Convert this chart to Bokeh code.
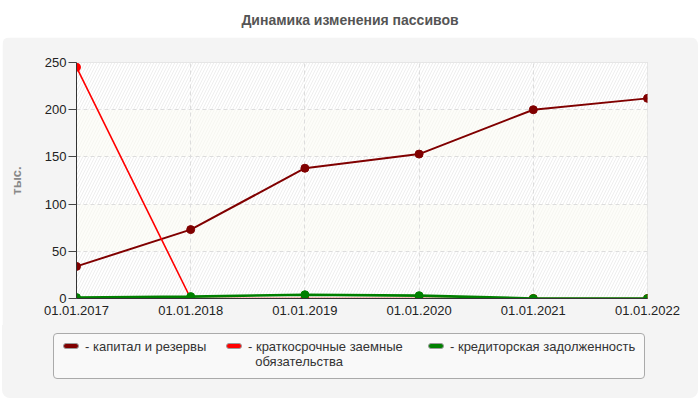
from bokeh.plotting import figure
from bokeh.models import FixedTicker, Div, Range1d
from bokeh.layouts import column
from bokeh.embed import file_html
from bokeh.resources import INLINE

years = [2017, 2018, 2019, 2020, 2021, 2022]
date_labels = ["01.01.2017", "01.01.2018", "01.01.2019", "01.01.2020", "01.01.2021", "01.01.2022"]
capital = [34, 73, 138, 153, 200, 212]
short_loans = [245, 0, 0, 0, 0, 0]
payables = [1, 2, 4, 3, 0, 0]
series_names = ["- капитал и резервы",
                "- краткосрочные заемные\n\u00a0\u00a0обязательства",
                "- кредиторская задолженность"]
series_colors = ["#800000", "#ff0000", "#008000"]
y_ticks = [0, 50, 100, 150, 200, 250]

FONT = "Liberation Sans"
PANEL = "#f4f4f4"
W = 696

title = Div(text="Динамика изменения пассивов", width=700, height=37, margin=0,
            styles={"text-align": "center", "font-family": FONT, "font-size": "14px",
                    "font-weight": "bold", "color": "#555555", "line-height": "40px",
                    "width": "700px"})

p = figure(width=W, height=288, x_range=Range1d(years[0], years[-1]),
           y_range=Range1d(y_ticks[0], y_ticks[-1]),
           output_backend="svg", toolbar_location=None, margin=(0, 0, 0, 2),
           min_border_left=74, min_border_right=51, min_border_top=25, min_border_bottom=27,
           border_fill_color=PANEL, background_fill_color="white",
           outline_line_color="#dcdcdc",
           styles={"border-top-left-radius": "8px", "border-top-right-radius": "8px",
                   "overflow": "hidden"})

# striped background bands
band_bottom = y_ticks[:-1]
band_top = y_ticks[1:]
band_fill = ["white" if i % 2 == 0 else "#fdfdf9" for i in range(len(band_bottom))]
band_hatch = ["#eeeeee" if i % 2 == 0 else "#f6f6f1" for i in range(len(band_bottom))]
p.quad(left=years[0], right=years[-1], bottom=band_bottom, top=band_top,
       fill_color=band_fill, hatch_pattern="/", hatch_color=band_hatch,
       hatch_scale=6, hatch_weight=1, line_color=None, level="image")

for vals, color, lw in zip([capital, short_loans, payables], series_colors, [2, 1.6, 2.6]):
    p.line(years, vals, line_color=color, line_width=lw)
    p.scatter(years, vals, size=8, fill_color=color, line_color=color)

# grids
p.xgrid.ticker = FixedTicker(ticks=years)
p.ygrid.ticker = FixedTicker(ticks=y_ticks)
for g in (p.xgrid, p.ygrid):
    g.grid_line_color = "#dddddd"
    g.grid_line_dash = "4 3"

# axes
p.yaxis.ticker = FixedTicker(ticks=y_ticks)
p.yaxis.major_tick_out = 8
p.yaxis.major_tick_in = 0
p.yaxis.minor_tick_line_color = None
p.yaxis.major_label_standoff = 2
p.yaxis.axis_label = "тыс."
p.yaxis.axis_label_text_font = FONT
p.yaxis.axis_label_text_font_size = "13px"
p.yaxis.axis_label_text_font_style = "bold"
p.yaxis.axis_label_text_color = "#888888"
p.yaxis.axis_label_standoff = 18

p.xaxis.ticker = FixedTicker(ticks=years)
p.xaxis.major_label_overrides = {y: l for y, l in zip(years, date_labels)}
p.xaxis.major_tick_out = 0
p.xaxis.major_tick_in = 0
p.xaxis.minor_tick_line_color = None
p.xaxis.major_label_standoff = 7

for ax in (p.xaxis, p.yaxis):
    ax.axis_line_color = "#333333"
    ax.major_tick_line_color = "#444444"
    ax.major_label_text_font = FONT
    ax.major_label_text_font_size = "13px"
    ax.major_label_text_color = "#222222"

# legend as html box below the chart
item_left = [9, 172, 374]
parts = []
for left, name, color in zip(item_left, series_names, series_colors):
    parts.append(
        '<div style="position:absolute;left:%dpx;top:9px;width:16px;height:6px;'
        'background:%s;border:1px solid #9a9a9a;border-radius:3px"></div>' % (left, color))
    parts.append(
        '<div style="position:absolute;left:%dpx;top:5px;line-height:15px;'
        'white-space:nowrap">%s</div>' % (left + 22, name.replace("\n", "<br>")))
legend_html = (
    '<div style="position:relative;width:%dpx;height:73px;background:%s;'
    'border-bottom-left-radius:8px;border-bottom-right-radius:8px">'
    '<div style="position:absolute;left:51px;top:8px;width:592px;height:46px;'
    'border:1px solid #aaaaaa;border-radius:4px;background:#f9f9f9;'
    "font-family:'%s';font-size:13px;color:#333333\">%s</div></div>"
) % (W, PANEL, FONT, "".join(parts))
legend = Div(text=legend_html, width=W, height=73, margin=(0, 0, 0, 2))

layout = column(title, p, legend)
open("out.html", "w").write(file_html(layout, INLINE))
